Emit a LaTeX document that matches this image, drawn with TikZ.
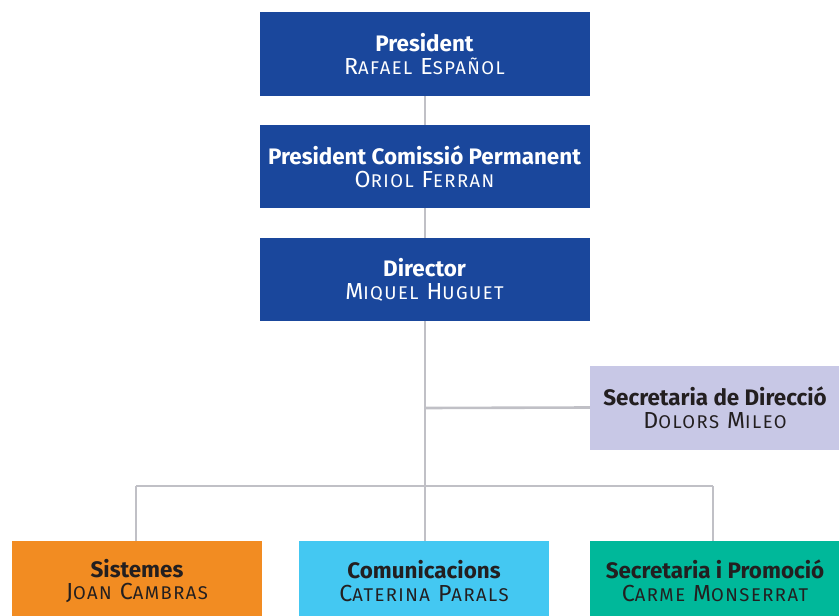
\documentclass[tikz,border=0pt]{standalone}
\usepackage{fontspec}
\setmainfont{Fira Sans}
\newfontfamily\namefont[LetterSpace=8]{Fira Sans}
\definecolor{dblue}{HTML}{1A479C}
\definecolor{lav}{HTML}{C8C8E6}
\definecolor{orng}{HTML}{F28C22}
\definecolor{cyn}{HTML}{44C8F2}
\definecolor{teal}{HTML}{00B89A}
\definecolor{lgray}{HTML}{C0C0C6}
\definecolor{dtext}{HTML}{231F20}
\newcommand\tit[1]{{\fontsize{22.5}{23}\selectfont\bfseries #1}}
\newcommand\nm[1]{{\namefont\fontsize{23.3}{23}\selectfont #1}}
\newcommand\sm[1]{{\fontsize{18.5}{23}\selectfont #1}}
\tikzset{
  orgbox/.style={rectangle, inner sep=0pt, minimum width=330bp, minimum height=83bp, align=center, font=\fontsize{22}{23}\selectfont},
  topbox/.style={orgbox, fill=dblue, text=white},
  subbox/.style={orgbox, minimum width=250bp, text=dtext},
  link/.style={draw=lgray, line width=2.6bp}
}
\begin{document}
\begin{tikzpicture}[x=1bp,y=-1bp]
\clip (0,0) rectangle (839,616);
\useasboundingbox (0,0) rectangle (839,616);
\node[topbox, minimum height=84bp] (pres) at (424.5,54) {\tit{President}\\\nm{R\sm{AFAEL} E\sm{SPAÑOL}}};
\node[topbox] (pcp) at (424.5,166.5) {\tit{President Comissió Permanent}\\\nm{O\sm{RIOL} F\sm{ERRAN}}};
\node[topbox] (dir) at (424.5,279.5) {\tit{Director}\\\nm{M\sm{IQUEL} H\sm{UGUET}}};
\node[subbox, fill=lav, minimum height=84bp] (sec) at (715,407.5) {\tit{Secretaria de Direcció}\\\nm{D\sm{OLORS} M\sm{ILEO}}};
\node[subbox, fill=orng, minimum height=80bp] (sis) at (137,581) {\tit{Sistemes}\\\nm{J\sm{OAN} C\sm{AMBRAS}}};
\node[subbox, fill=cyn, minimum height=80bp] (com) at (424,581) {\tit{Comunicacions}\\\nm{C\sm{ATERINA} P\sm{ARALS}}};
\node[subbox, fill=teal, minimum height=80bp] (sp) at (715,581) {\tit{Secretaria i Promoció}\\\nm{C\sm{ARME} M\sm{ONSERRAT}}};
\coordinate (hub) at (425,486);
\coordinate (jl) at (136,486);
\coordinate (jr) at (713,486);
\coordinate (jm) at (425,408);
\draw[link] (pres.south -| hub) -- (pcp.north -| hub);
\draw[link] (pcp.south -| hub) -- (dir.north -| hub);
\draw[link] (dir.south -| hub) -- (hub);
\draw[link] (jm) -- (sec.west);
\draw[link] (jl) -- (jr);
\draw[link] (jl) -- (jl |- sis.north);
\draw[link] (hub) -- (com.north -| hub);
\draw[link] (jr) -- (jr |- sp.north);
\end{tikzpicture}
\end{document}
